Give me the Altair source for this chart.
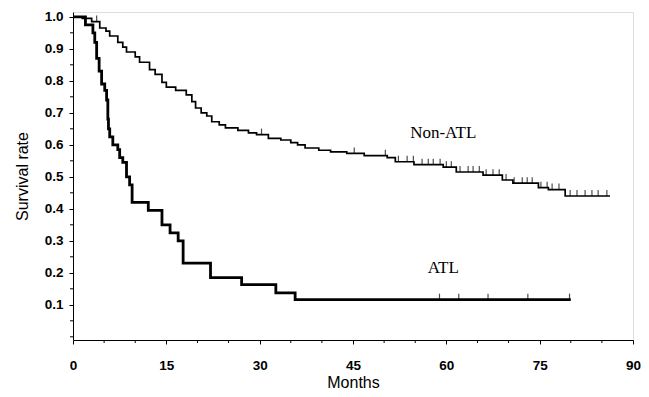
import altair as alt
import pandas as pd
import numpy as np

# ---- data ----
atl_months = [0, 2.0, 3.2, 3.5, 3.8, 4.2, 4.6, 5.1, 5.4, 5.6, 5.7, 5.9, 6.4, 7.2, 7.5, 8.0,
              8.6, 9.1, 9.5, 12.1, 14.3, 15.6, 16.9, 17.7, 22.1, 27.1, 32.6, 35.7]
atl_surv = [1.0, 0.975, 0.95, 0.92, 0.87, 0.83, 0.79, 0.77, 0.74, 0.68, 0.65, 0.625, 0.60, 0.585, 0.56, 0.545,
            0.50, 0.475, 0.42, 0.395, 0.35, 0.325, 0.30, 0.23, 0.185, 0.163, 0.137, 0.116]
atl_end = 80.0
atl_censor = [58.9, 62.0, 66.7, 73.1, 79.8]

non_months = [0, 1.5, 3.0, 4.3, 5.3, 5.9, 7.2, 8.0, 8.6, 10.0, 10.7, 12.3, 13.2, 14.3, 15.0, 16.5,
              18.2, 19.1, 19.7, 20.6, 21.5, 22.3, 23.5, 24.5, 26.5, 28.2, 29.5, 31.4, 33.4, 35.0,
              36.1, 37.3, 39.5, 41.4, 44.0, 46.8, 50.5, 51.8, 54.8, 59.5, 61.6, 65.9, 69.0, 70.7,
              74.8, 76.4, 79.1]
non_surv = [1.0, 0.995, 0.985, 0.965, 0.955, 0.94, 0.92, 0.905, 0.89, 0.875, 0.858, 0.835, 0.82, 0.795, 0.78, 0.77,
            0.756, 0.735, 0.715, 0.70, 0.69, 0.672, 0.662, 0.653, 0.645, 0.637, 0.632, 0.62, 0.615, 0.607,
            0.60, 0.59, 0.583, 0.578, 0.573, 0.566, 0.56, 0.547, 0.538, 0.53, 0.515, 0.505, 0.49, 0.48,
            0.466, 0.46, 0.44]
non_end = 86.3
non_censor = [3.8, 30.3, 45.2, 50.2, 52.3, 53.7, 54.7, 56.1, 57.1, 57.9, 59.0, 60.0, 60.8, 62.2,
              63.5, 64.3, 65.3, 66.4, 67.5, 68.5, 69.6, 70.9, 72.2, 73.0, 73.8, 75.2, 76.2, 77.0,
              78.1, 79.9, 81.0, 82.3, 83.4, 84.4, 85.8]

label_text = ["Non-ATL", "ATL"]
label_month = [59.5, 59.5]
label_surv = [0.6375, 0.216]

x_major = [0, 15, 30, 45, 60, 75, 90]
x_minor = [5, 10, 20, 25, 35, 40, 50, 55, 65, 70, 80, 85]
y_major = [0.1, 0.2, 0.3, 0.4, 0.5, 0.6, 0.7, 0.8, 0.9, 1.0]
y_minor = [0.0, 0.05, 0.15, 0.25, 0.35, 0.45, 0.55, 0.65, 0.75, 0.85, 0.95]


def curve(months, surv, end, group):
    return pd.DataFrame({"month": list(months) + [end],
                         "surv": list(surv) + [surv[-1]],
                         "group": group})


def censor(times, months, surv, group):
    idx = np.searchsorted(np.array(months), np.array(times), side="right") - 1
    return pd.DataFrame({"month": times, "surv": np.array(surv)[idx], "group": group})


atl_df = curve(atl_months, atl_surv, atl_end, "ATL")
non_df = curve(non_months, non_surv, non_end, "Non-ATL")
cens_df = pd.concat([censor(atl_censor, atl_months, atl_surv, "ATL"),
                     censor(non_censor, non_months, non_surv, "Non-ATL")])
lab_df = pd.DataFrame({"text": label_text, "month": label_month, "surv": label_surv})
xminor_df = pd.DataFrame({"month": x_minor})
yminor_df = pd.DataFrame({"surv": y_minor})

W = 560
H = 328

x_enc = alt.X("month:Q",
              scale=alt.Scale(domain=[0, 90], nice=False, zero=False),
              axis=alt.Axis(title="Months", values=x_major, format="d", tickCount=30,
                            labelOverlap=False, labelFlush=False,
                            grid=False, domainColor="black", tickColor="black",
                            tickSize=4, labelPadding=14, labelFontSize=13.5,
                            labelFontWeight="bold",
                            labelFont="Liberation Sans", labelColor="black",
                            titleFont="Liberation Sans", titleFontSize=16,
                            titleFontWeight="normal", titleColor="black",
                            titlePadding=3))
y_enc = alt.Y("surv:Q",
              scale=alt.Scale(domain=[-0.01, 1.015], nice=False, zero=False),
              axis=alt.Axis(title="Survival rate", values=y_major, format=".1f", tickCount=30,
                            labelOverlap=False, labelFlush=False,
                            grid=False, domainColor="black", tickColor="black",
                            tickSize=4, labelPadding=6, labelFontSize=13.5,
                            labelFontWeight="bold",
                            labelFont="Liberation Sans", labelColor="black",
                            titleFont="Liberation Sans", titleFontSize=16,
                            titleFontWeight="normal", titleColor="black",
                            titlePadding=14))

atl_line = alt.Chart(atl_df).mark_line(interpolate="step-after", color="black",
                                       strokeWidth=2.8).encode(x=x_enc, y=y_enc)
non_line = alt.Chart(non_df).mark_line(interpolate="step-after", color="black",
                                       strokeWidth=1.7).encode(x="month:Q", y="surv:Q")
ticks = alt.Chart(cens_df).mark_tick(orient="vertical", size=6, thickness=1.2,
                                     color="black", yOffset=-3).encode(x="month:Q", y="surv:Q")
labels = alt.Chart(lab_df).mark_text(font="Liberation Serif", fontSize=17,
                                     color="black").encode(x="month:Q", y="surv:Q", text="text:N")
xminor = alt.Chart(xminor_df).mark_rule(color="black", strokeWidth=1).encode(
    x="month:Q", y=alt.value(H), y2=alt.value(H + 3))
yminor = alt.Chart(yminor_df).mark_rule(color="black", strokeWidth=1).encode(
    y="surv:Q", x=alt.value(-3), x2=alt.value(0))

chart = alt.layer(atl_line, non_line, ticks, labels, xminor, yminor).properties(
    width=W, height=H,
    autosize=alt.AutoSizeParams(type="none"),
    padding={"left": 65, "top": 4, "right": 8, "bottom": 53},
).configure_view(stroke=None).configure(background="white")

chart.save("out.html", embed_options={"renderer": "svg", "actions": False})
